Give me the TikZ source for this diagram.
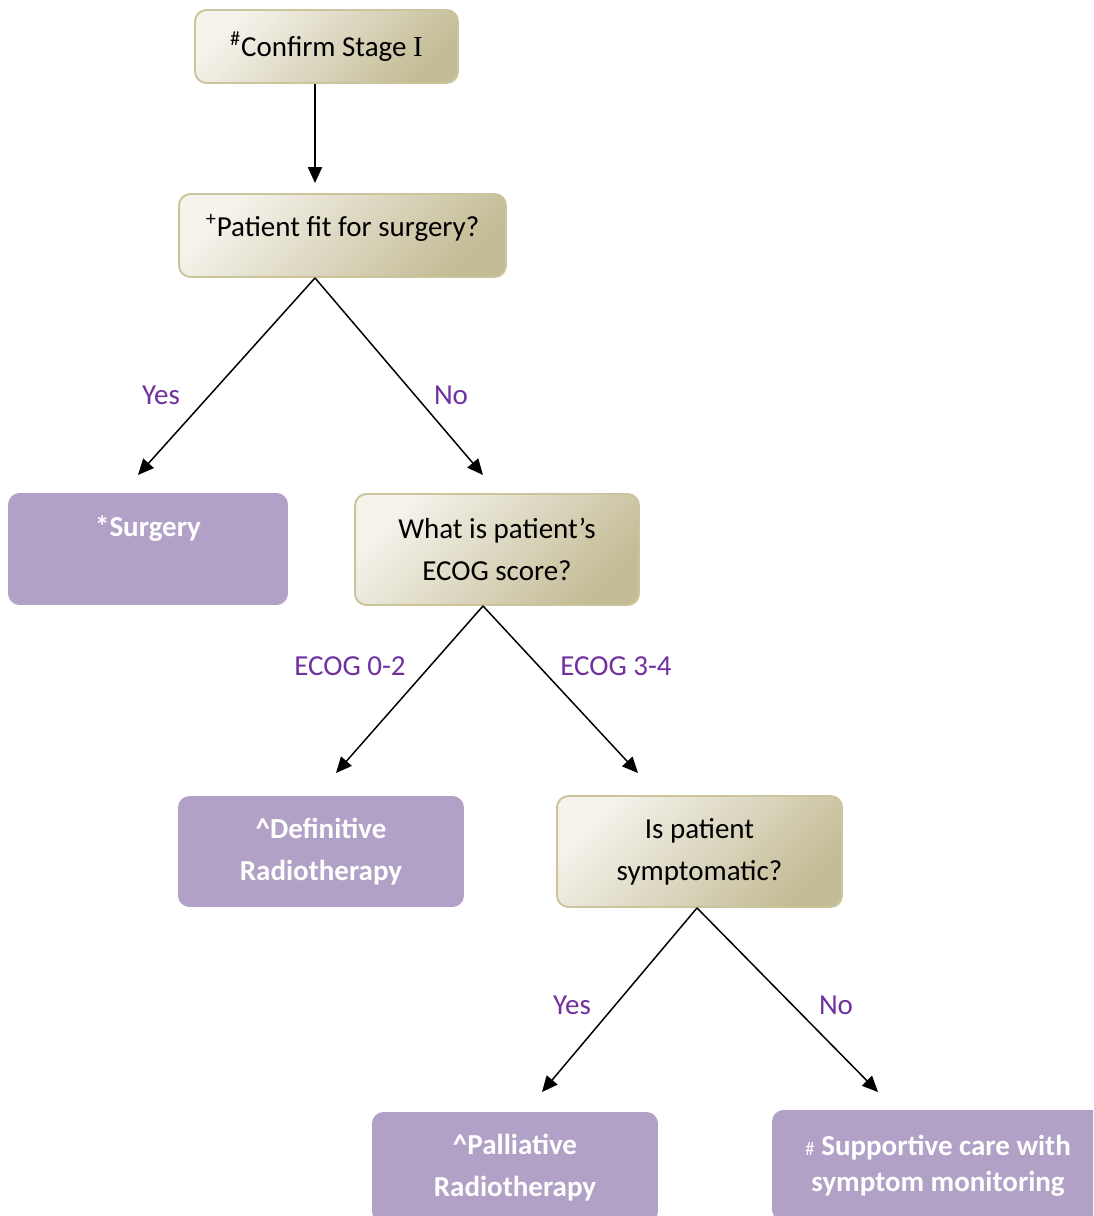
\documentclass[tikz,border=0pt]{standalone}
\usepackage{fontspec}
\setmainfont{Carlito}
\newfontfamily\romanI{Liberation Serif}
\usepackage{tikz}
\usetikzlibrary{calc,arrows.meta,positioning,shapes}
\definecolor{beigel}{RGB}{245,243,236}
\definecolor{beiged}{RGB}{196,188,150}
\definecolor{beigeb}{RGB}{204,196,156}
\definecolor{lilac}{RGB}{178,161,199}
\definecolor{violet}{RGB}{112,48,160}
\newcommand{\qfont}{\fontsize{16.5}{24}\selectfont}
\tikzset{
  qbox/.style={rectangle, draw=beigeb, line width=1.1pt, rounded corners=6.5pt, top color=beigel, bottom color=beiged, shading angle=45, align=center, text=black, font=\qfont, inner sep=2pt},
  abox/.style={rectangle, fill=lilac, rounded corners=6.5pt, align=center, text=white, font=\qfont\bfseries, inner sep=2pt},
  ans/.style={text=violet, font=\qfont, inner sep=1pt},
  line/.style={draw, line width=0.85pt, -{Triangle[length=9pt,width=8pt]}},
}
\begin{document}
\begin{tikzpicture}[x=0.02cm,y=-0.02cm]
    \useasboundingbox (0,0) rectangle (1093,1216);
    \clip (0,0) rectangle (1093,1216);

    % questions
    \node[qbox, minimum width=5.26cm, minimum height=1.46cm] (confirm) at (326.5,46.5) {\textsuperscript{\#}Confirm Stage {\romanI I}};
    \node[qbox, minimum width=6.54cm, minimum height=1.66cm, text height=0.45cm, text depth=0.41cm] (fit) at (342.5,235.5) {\textsuperscript{+}Patient fit for surgery?};
    \node[qbox, minimum width=5.68cm, minimum height=2.22cm] (ecog) at (497,549.5) {What is patient’s\\ECOG score?};
    \node[qbox, minimum width=5.70cm, minimum height=2.22cm] (sympt) at (699.5,851.5) {Is patient\\symptomatic?};

    % answers
    \node[abox, minimum width=5.60cm, minimum height=2.24cm, text height=0.45cm, text depth=0.95cm] (surg) at (148,549) {*Surgery};
    \node[abox, minimum width=5.72cm, minimum height=2.22cm] (defrt) at (321,851.5) {\textasciicircum Definitive\\Radiotherapy};
    \node[abox, minimum width=5.72cm, minimum height=2.22cm] (palrt) at (515,1167.5) {\textasciicircum Palliative\\Radiotherapy};
    \node[abox, minimum width=6.64cm, minimum height=2.22cm] (supp) at (938,1165.5) {{\mdseries\fontsize{11}{12}\selectfont\#} Supportive care with\\[-3.5pt]symptom monitoring};

    % arrow ends
    \coordinate (fittop) at (315,183);
    \coordinate (surgtop) at (138,475);
    \coordinate (ecogtop) at (483,475);
    \coordinate (deftop) at (336,773);
    \coordinate (symtop) at (638,773);
    \coordinate (paltop) at (542,1092);
    \coordinate (suptop) at (878,1092);

    % labels
    \node[ans] (yes1) at (161,395) {Yes};
    \node[ans] (no1) at (451,395) {No};
    \node[ans] (low) at (350,666) {ECOG 0-2};
    \node[ans] (high) at (616,666) {ECOG 3-4};
    \node[ans] (yes2) at (572,1005) {Yes};
    \node[ans] (no2) at (836,1005) {No};

    \begin{scope}[every path/.style=line]
      \path ($(confirm.south)+(-11.5,0)$) -- (fittop);
      \path ($(fit.south)+(-27.5,0)$) -- (surgtop);
      \path ($(fit.south)+(-27.5,0)$) -- (ecogtop);
      \path ($(ecog.south)+(-14,0)$) -- (deftop);
      \path ($(ecog.south)+(-14,0)$) -- (symtop);
      \path ($(sympt.south)+(-2.5,0)$) -- (paltop);
      \path ($(sympt.south)+(-2.5,0)$) -- (suptop);
    \end{scope}

\end{tikzpicture}
\end{document}
